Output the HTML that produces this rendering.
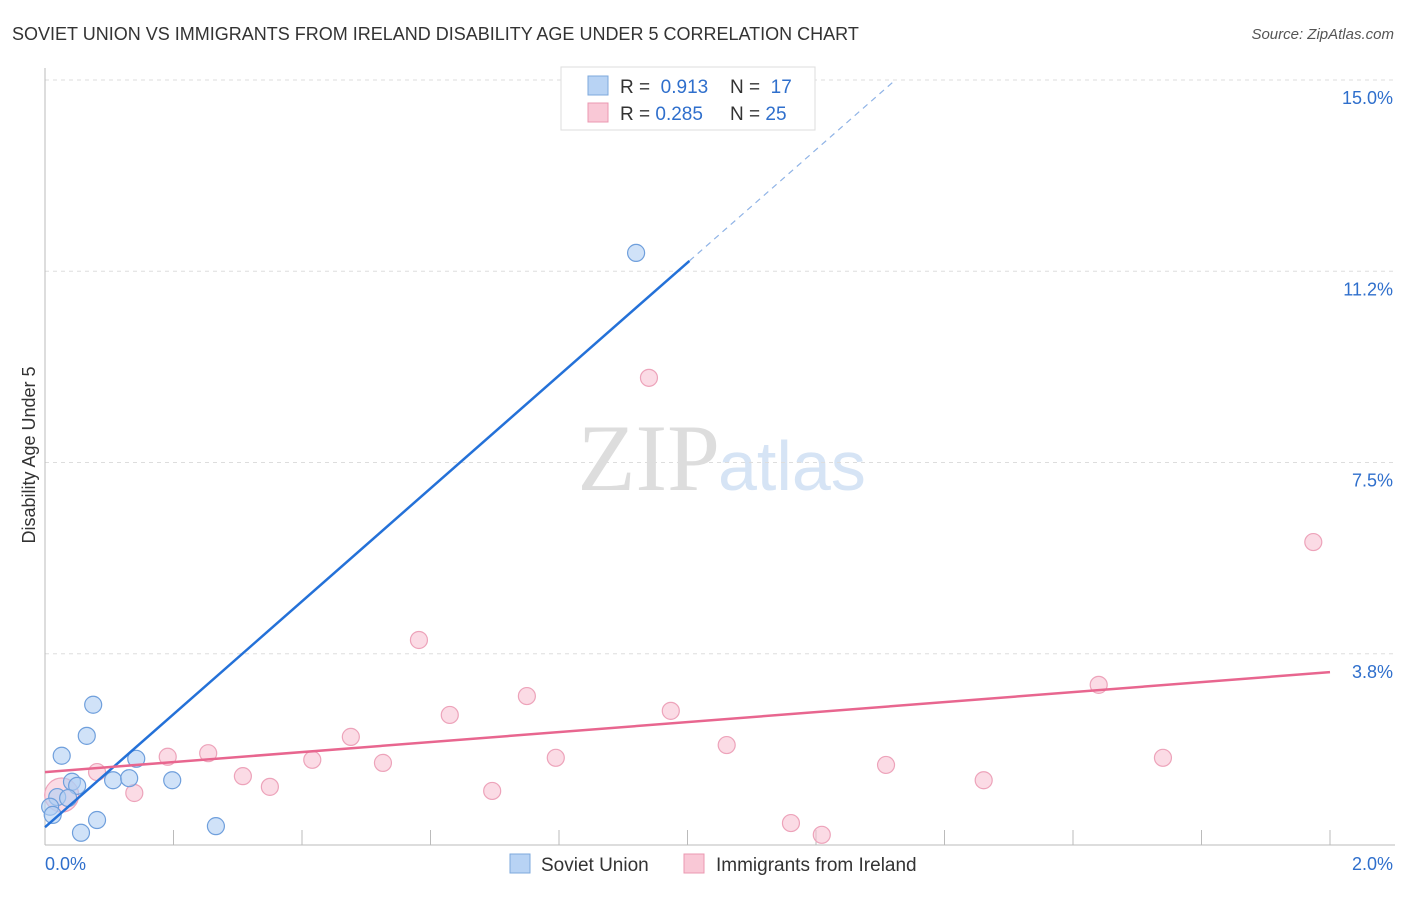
<!DOCTYPE html>
<html><head><meta charset="utf-8"><style>
body{margin:0;background:#fff;font-family:"Liberation Sans",sans-serif}
svg text{font-family:"Liberation Sans",sans-serif}
</style></head><body>
<svg id="c" width="1406" height="892">
<text x="12" y="40" font-size="18" fill="#333">SOVIET UNION VS IMMIGRANTS FROM IRELAND DISABILITY AGE UNDER 5 CORRELATION CHART</text>
<text x="1394" y="39" font-size="15" fill="#555" font-style="italic" text-anchor="end">Source: ZipAtlas.com</text>
<text x="35" y="455" font-size="18" fill="#333" text-anchor="middle" transform="rotate(-90 35 455)">Disability Age Under 5</text>
<text x="720" y="490" font-size="95" fill="#ddd" text-anchor="end" font-family="Liberation Serif" style="font-family:'Liberation Serif',serif">ZIP</text>
<text x="718" y="490" font-size="70" fill="#d6e4f5">atlas</text>
<g id="grid"></g><g id="axes"></g><g id="marks"></g>
<g>
<rect x="561" y="67" width="254" height="63" fill="#fff" stroke="#ddd"/>
<rect x="588" y="76" width="20" height="19" fill="#b8d3f4" stroke="#7ea8dc"/>
<rect x="588" y="103" width="20" height="19" fill="#f9c8d6" stroke="#eb98b1"/>
<text x="620" y="93" font-size="19" fill="#333">R = <tspan fill="#2f6fcc">&#160;0.913</tspan><tspan x="730">N = </tspan><tspan fill="#2f6fcc">&#160;17</tspan></text>
<text x="620" y="120" font-size="19" fill="#333">R = <tspan fill="#2f6fcc">0.285</tspan><tspan x="730">N = </tspan><tspan fill="#2f6fcc">25</tspan></text>
</g>
<g>
<rect x="510" y="854" width="20" height="19" fill="#b8d3f4" stroke="#7ea8dc"/>
<text x="541" y="871" font-size="19" fill="#333">Soviet Union</text>
<rect x="684" y="854" width="20" height="19" fill="#f9c8d6" stroke="#eb98b1"/>
<text x="716" y="871" font-size="19" fill="#333">Immigrants from Ireland</text>
</g>
</svg>
<script>
const yTicks=[15.0,11.25,7.5,3.75];
const yTickLabels=["15.0%","11.2%","7.5%","3.8%"];
const xTickVals=[0,0.2,0.4,0.6,0.8,1.0,1.2,1.4,1.6,1.8,2.0];
const blueX=[0.075,0.065,0.026,0.142,0.042,0.050,0.106,0.131,0.198,0.019,0.036,0.008,0.012,0.081,0.056,0.266,0.920];
const blueY=[2.75,2.14,1.75,1.69,1.24,1.16,1.27,1.31,1.27,0.94,0.92,0.75,0.59,0.49,0.24,0.37,11.61];
const pinkX=[0.026,0.081,0.139,0.191,0.254,0.308,0.350,0.416,0.476,0.526,0.582,0.630,0.696,0.750,0.795,0.940,0.974,1.061,1.161,1.209,1.309,1.461,1.640,1.740,1.974];
const pinkY=[0.98,1.43,1.02,1.73,1.80,1.35,1.14,1.67,2.12,1.61,4.02,2.55,1.06,2.92,1.71,9.16,2.63,1.96,0.43,0.20,1.57,1.27,3.14,1.71,5.94];
const blueLine=[0.35,11.07]; // intercept, slope
const pinkLine=[1.43,0.98];
const X=v=>45+v*642.5, Y=v=>845-v*51.0;
const NS="http://www.w3.org/2000/svg";
function mk(p,t,a){const e=document.createElementNS(NS,t);for(const k in a)e.setAttribute(k,a[k]);p.appendChild(e);return e;}
const g=document.getElementById('grid'),ax=document.getElementById('axes'),m=document.getElementById('marks');
yTicks.forEach((v,i)=>{
 const l=mk(g,'line',{x1:45,x2:1395,y1:Y(v),y2:Y(v),stroke:'#ddd','stroke-dasharray':'4,4'});
 
 
 const t=mk(g,'text',{x:1393,y:Y(v)+24,'font-size':18,fill:'#2f6fcc','text-anchor':'end'});
 t.textContent=yTickLabels[i];
 
 
});
mk(ax,'line',{x1:45,x2:45,y1:68,y2:845,stroke:'#bbb'});
mk(ax,'line',{x1:45,x2:1395,y1:845,y2:845,stroke:'#bbb'});
xTickVals.forEach(v=>{const l=mk(ax,'line',{x1:X(v),x2:X(v),y1:830,y2:845,stroke:'#bbb'});
 
 });
const t0=mk(ax,'text',{x:45,y:870,'font-size':18,fill:'#2f6fcc'});t0.textContent='0.0%';


const t1=mk(ax,'text',{x:1393,y:870,'font-size':18,fill:'#2f6fcc','text-anchor':'end'});t1.textContent='2.0%';


pinkX.forEach((x,i)=>{const r=i===0?17:8.5;const c=mk(m,'circle',{cx:X(x),cy:Y(pinkY[i]),r:r,fill:'rgba(248,190,208,0.55)',stroke:'#eda3ba','stroke-width':1.2});
 
 });
blueX.forEach((x,i)=>{const c=mk(m,'circle',{cx:X(x),cy:Y(blueY[i]),r:8.5,fill:'rgba(176,206,243,0.6)',stroke:'#6f9fdc','stroke-width':1.2});
 
 });
const bx1=1.003,bx2=(15-blueLine[0])/blueLine[1];
const bl=mk(m,'line',{x1:X(0),y1:Y(blueLine[0]),x2:X(bx1),y2:Y(blueLine[0]+blueLine[1]*bx1),stroke:'#2471d8','stroke-width':2.5});


const bd=mk(m,'line',{x1:X(bx1),y1:Y(blueLine[0]+blueLine[1]*bx1),x2:X(bx2),y2:Y(15),stroke:'#8fb3e6','stroke-width':1.2,'stroke-dasharray':'6,5'});


const pl=mk(m,'line',{x1:X(0),y1:Y(pinkLine[0]),x2:X(2),y2:Y(pinkLine[0]+pinkLine[1]*2),stroke:'#e8668f','stroke-width':2.5});


</script>
</body></html>
